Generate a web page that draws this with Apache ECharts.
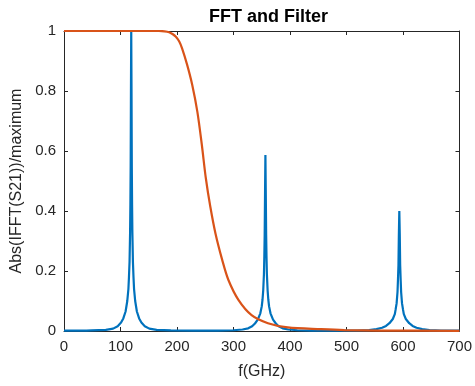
<!DOCTYPE html>
<html>
<head>
<meta charset="utf-8">
<script src="https://cdn.jsdelivr.net/npm/echarts@6/dist/echarts.min.js"></script>
<style>html,body{margin:0;padding:0;background:#fff;}#c{width:475px;height:386px;}</style>
</head>
<body>
<div id="c"></div>
<script>
// FFT magnitude (blue)
const fftFreq = [0, 40, 49, 74, 87, 95, 101, 105, 109, 112, 114, 115, 116, 117, 117.5, 118, 118.5, 119, 119.5, 120, 120.5, 121, 122, 123, 124, 126, 129, 133, 137, 143, 151, 164, 189, 230, 272, 300, 316, 326, 333, 338, 343, 347.5, 350, 351.4, 352.6, 353.9, 354.6, 355.2, 355.9, 356.5, 357.1, 357.8, 358.4, 359.1, 360.4, 361.6, 363, 365.5, 370, 375, 380, 387, 397, 413, 440, 480, 520, 540, 553, 563, 570, 576, 582, 585.5, 587, 588.7, 590.3, 591.1, 592, 592.7, 593.5, 594.3, 595, 595.9, 596.7, 598.3, 600, 601.5, 605, 611, 617, 624, 634, 647, 667, 700];
const fftMag = [0.001, 0.001, 0.002, 0.004, 0.008, 0.016, 0.028, 0.042, 0.065, 0.10, 0.14, 0.18, 0.23, 0.33, 0.42, 0.55, 0.8, 1.0, 0.8, 0.55, 0.42, 0.33, 0.23, 0.18, 0.14, 0.10, 0.065, 0.042, 0.028, 0.016, 0.008, 0.004, 0.002, 0.001, 0.001, 0.0025, 0.005, 0.009, 0.016, 0.025, 0.038, 0.059, 0.082, 0.105, 0.135, 0.19, 0.25, 0.32, 0.47, 0.587, 0.47, 0.32, 0.25, 0.19, 0.135, 0.105, 0.082, 0.059, 0.038, 0.025, 0.016, 0.009, 0.005, 0.0025, 0.001, 0.001, 0.0016, 0.0032, 0.0064, 0.011, 0.017, 0.026, 0.04, 0.056, 0.072, 0.092, 0.13, 0.17, 0.22, 0.32, 0.40, 0.32, 0.22, 0.17, 0.13, 0.092, 0.072, 0.056, 0.04, 0.026, 0.017, 0.011, 0.0064, 0.0032, 0.0016, 0.001];

// Filter response (orange)
const filterFreq = [0, 100, 168, 178, 186, 192, 198, 204, 209, 218, 227, 236, 244, 251, 259, 268, 280, 291, 309, 332, 361, 396, 455, 496, 560, 700];
const filterMag = [1, 1, 1, 0.999, 0.996, 0.99, 0.981, 0.965, 0.942, 0.887, 0.82, 0.731, 0.62, 0.51, 0.414, 0.326, 0.237, 0.17, 0.103, 0.053, 0.026, 0.012, 0.006, 0.003, 0.0015, 0.0005];

const xTicks = [0, 100, 200, 300, 400, 500, 600, 700];
const yTicks = [0, 0.2, 0.4, 0.6, 0.8, 1];

const axisColor = '#262626';
const font = 'Liberation Sans, Arial, sans-serif';

const toPairs = (xs, ys) => xs.map((x, i) => [x, ys[i]]);

const chart = echarts.init(document.getElementById('c'), null, {renderer: 'canvas'});
const boxAxis = {
  axisLine: {show: true, onZero: false, lineStyle: {color: axisColor, width: 1}},
  axisTick: {show: true, inside: true, length: 4, lineStyle: {color: axisColor}},
  axisLabel: {show: false},
  splitLine: {show: false}
};
chart.setOption({
  animation: false,
  backgroundColor: '#fff',
  title: {
    text: 'FFT and Filter', left: 263.5, textAlign: 'center', top: 3,
    textStyle: {fontFamily: font, fontSize: 18, fontWeight: 'bold', color: '#000'}
  },
  grid: {left: 64, right: 12, top: 31, bottom: 55, containLabel: false},
  xAxis: [{
    type: 'value', min: xTicks[0], max: xTicks[xTicks.length - 1], interval: 100,
    position: 'bottom',
    name: 'f(GHz)', nameLocation: 'middle', nameGap: 33,
    nameTextStyle: {fontFamily: font, fontSize: 16, color: axisColor},
    axisLine: {show: true, onZero: false, lineStyle: {color: axisColor, width: 1}},
    axisTick: {show: true, inside: true, length: 4, lineStyle: {color: axisColor}},
    axisLabel: {fontFamily: font, fontSize: 15, color: axisColor, margin: 8},
    splitLine: {show: false}
  }, Object.assign({type: 'value', min: 0, max: 700, interval: 100, position: 'top'}, boxAxis)],
  yAxis: [{
    type: 'value', min: yTicks[0], max: yTicks[yTicks.length - 1], interval: 0.2,
    position: 'left',
    name: 'Abs(IFFT(S21))/maximum', nameLocation: 'middle', nameGap: 31,
    nameTextStyle: {fontFamily: font, fontSize: 16, color: axisColor},
    axisLine: {show: true, onZero: false, lineStyle: {color: axisColor, width: 1}},
    axisTick: {show: true, inside: true, length: 4, lineStyle: {color: axisColor}},
    axisLabel: {fontFamily: font, fontSize: 15, color: axisColor, margin: 8},
    splitLine: {show: false}
  }, Object.assign({type: 'value', min: 0, max: 1, interval: 0.2, position: 'right'}, boxAxis)],
  series: [
    {type: 'line', data: toPairs(fftFreq, fftMag), xAxisIndex: 0, yAxisIndex: 0,
     showSymbol: false, symbol: 'none', lineStyle: {color: '#0072BD', width: 2.2}, itemStyle: {color: '#0072BD'}},
    {type: 'line', data: toPairs(filterFreq, filterMag), xAxisIndex: 0, yAxisIndex: 0, smooth: 0.3,
     showSymbol: false, symbol: 'none', lineStyle: {color: '#D95319', width: 2.2}, itemStyle: {color: '#D95319'}}
  ]
});
</script>
</body>
</html>
